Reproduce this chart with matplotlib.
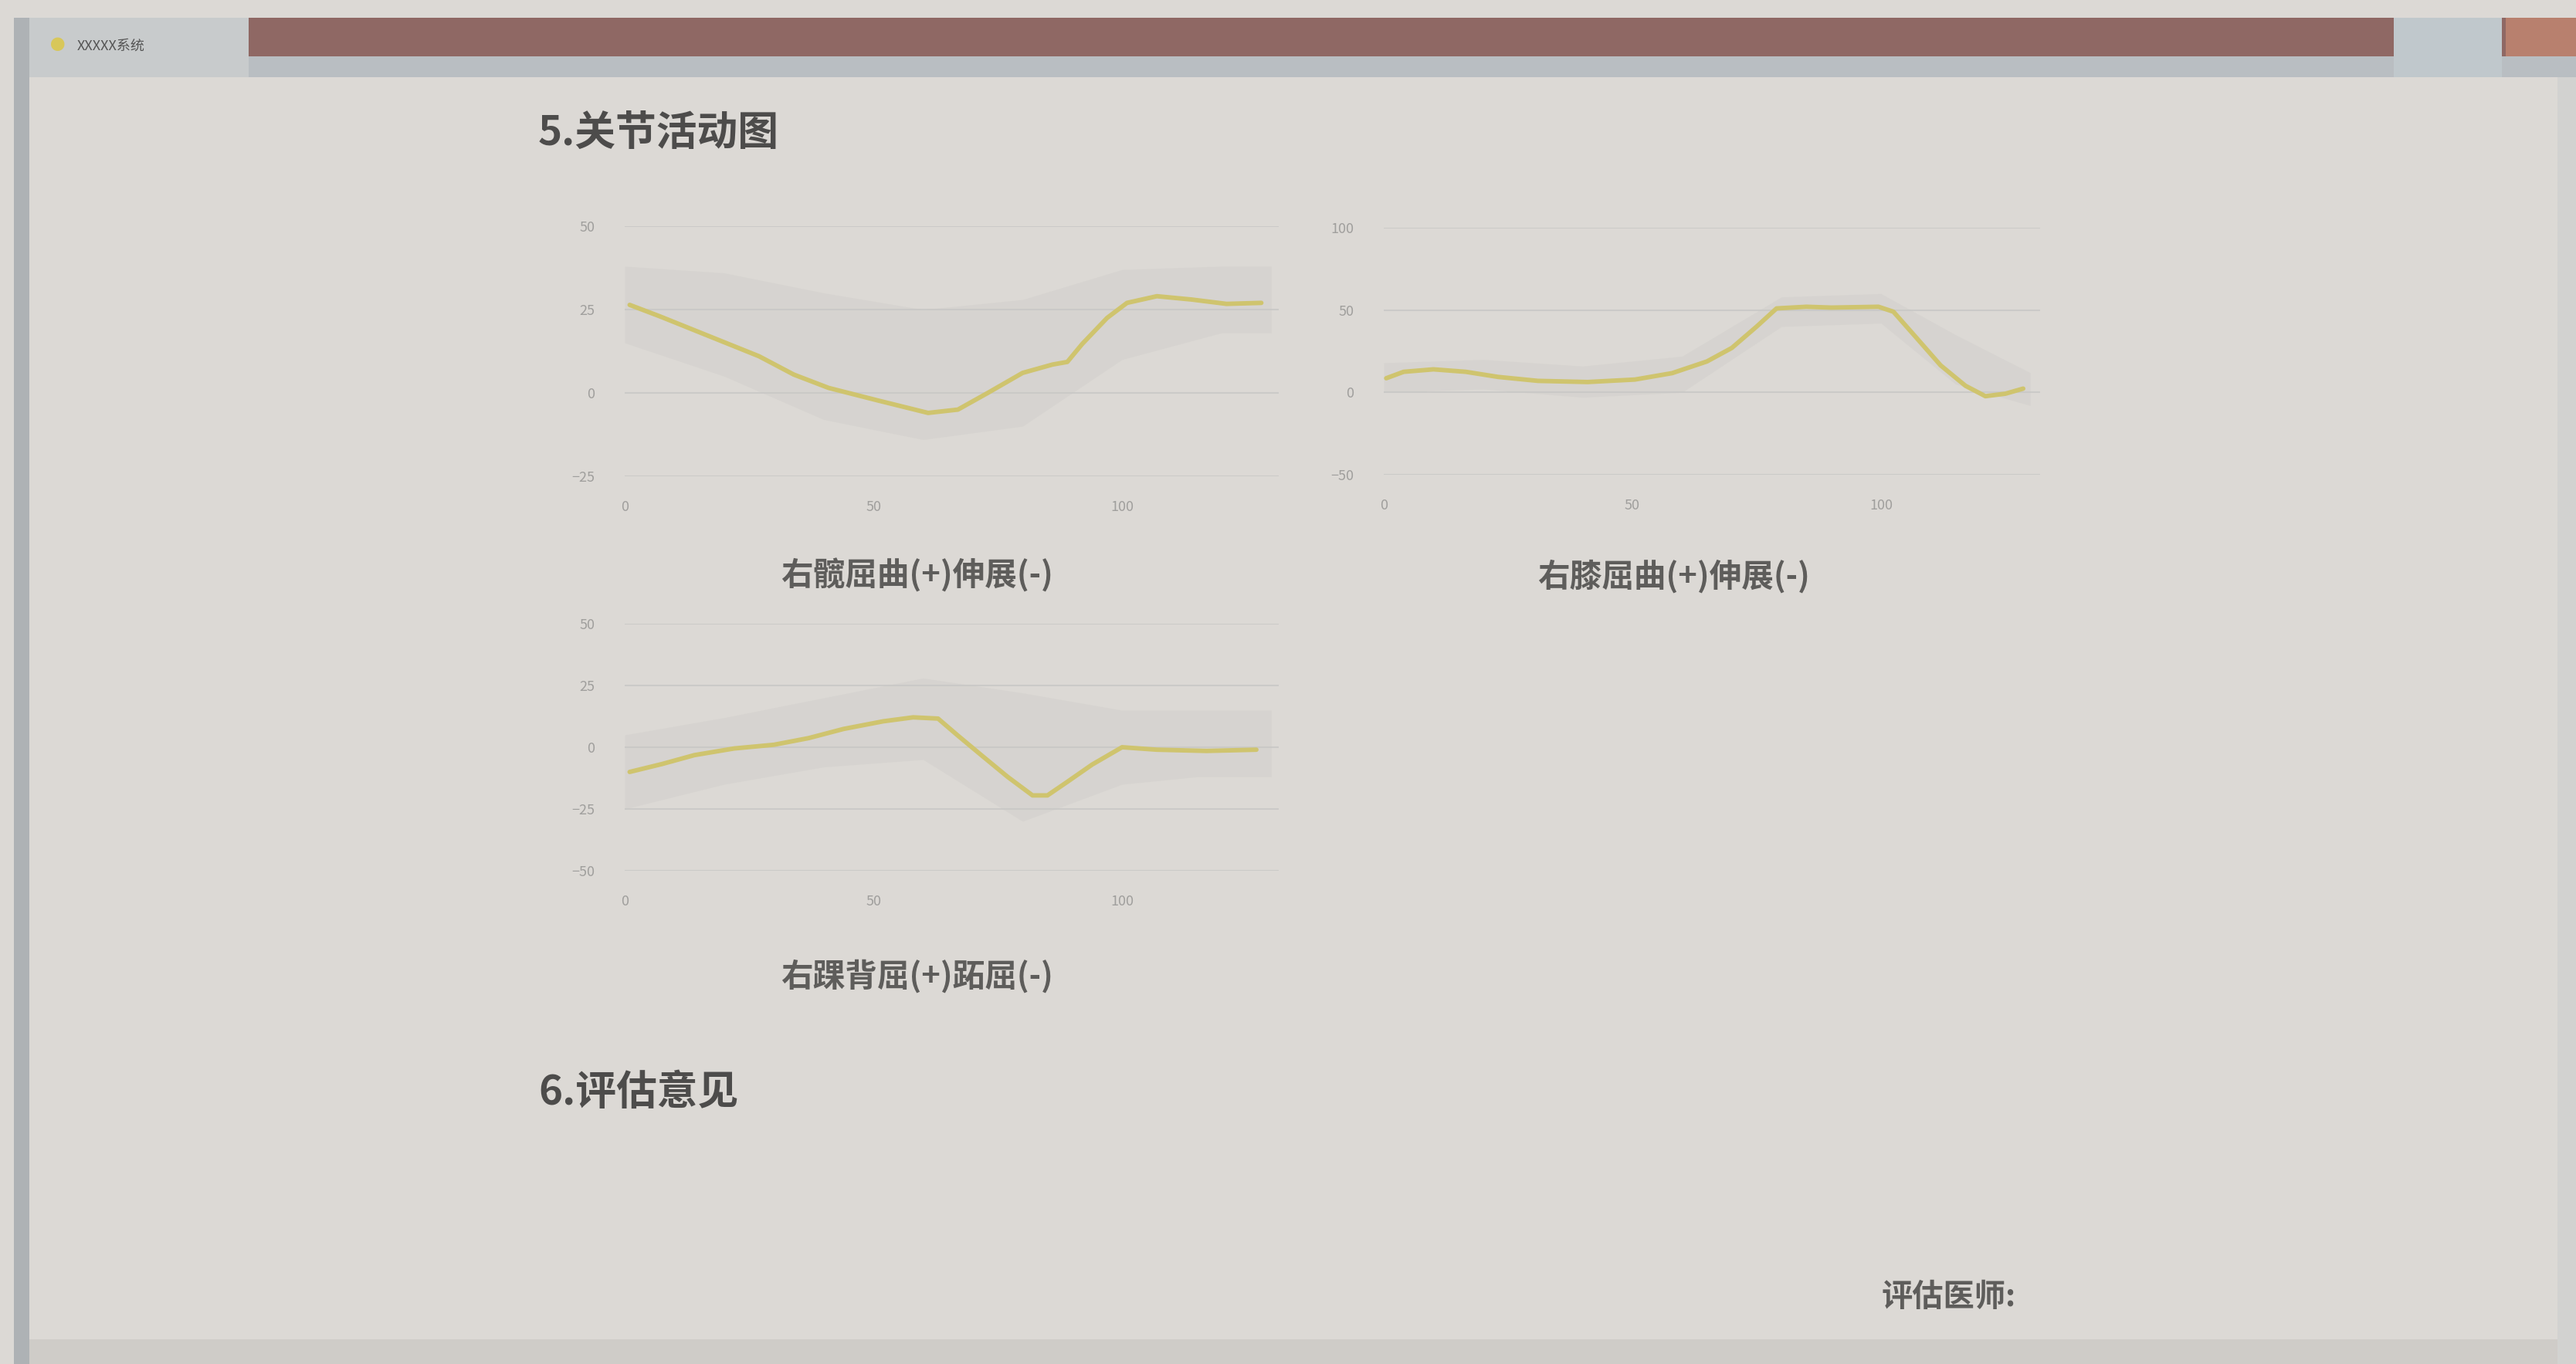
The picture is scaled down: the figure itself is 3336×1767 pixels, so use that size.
import matplotlib
matplotlib.use("Agg")
import matplotlib.pyplot as plt
from matplotlib.patches import Rectangle

plt.rcParams['font.family'] = ['Noto Sans CJK SC', 'DejaVu Sans']

# ---------------- data ----------------
hip_x = [1, 7, 17, 27, 34, 41, 51, 61, 67, 73, 80, 86, 89, 92, 97, 101, 107, 114, 121, 128]
hip_y = [26.4, 23, 17, 11, 5.5, 1.5, -2.3, -6, -5, 0, 6, 8.5, 9.3, 14.7, 22.5, 27, 29, 28, 26.7, 27]
hip_band_x = [0, 20, 40, 60, 80, 100, 120, 130]
hip_band_hi = [38, 36, 30, 25, 28, 37, 38, 38]
hip_band_lo = [15, 5, -8, -14, -10, 10, 18, 18]

knee_x = [0.5, 4, 10, 16.5, 23, 31, 41, 50.5, 58, 65, 70, 75, 79, 85, 90, 99.5, 102.5, 107, 112, 117, 121, 125, 128.6]
knee_y = [8.6, 12.5, 14, 12.5, 9.4, 7, 6.3, 7.8, 11.7, 18.8, 27, 40, 51, 52, 51.5, 52, 49, 33.6, 16.4, 4, -2.3, -0.8, 2.3]
knee_band_x = [0, 20, 40, 60, 80, 100, 115, 130]
knee_band_hi = [18, 20, 16, 22, 58, 60, 35, 12]
knee_band_lo = [0, 2, -3, 0, 40, 42, 5, -8]

ankle_x = [1, 7.5, 14, 22, 30, 37, 44, 52, 58, 63, 67, 72, 77, 82, 85, 89, 94, 100, 107, 117, 127]
ankle_y = [-10, -6.8, -3.2, -0.5, 1, 3.7, 7.4, 10.5, 12.1, 11.6, 4.7, -3.7, -12, -19.5, -19.5, -14, -7, 0, -1, -1.5, -1]
ankle_band_x = [0, 20, 40, 60, 80, 100, 115, 130]
ankle_band_hi = [5, 12, 20, 28, 22, 15, 15, 15]
ankle_band_lo = [-25, -15, -8, -5, -30, -15, -12, -12]

x_ticks = [0, 50, 100]
hip_yticks = [-25, 0, 25, 50]
knee_yticks = [-50, 0, 50, 100]
ankle_yticks = [-50, -25, 0, 25, 50]

captions = ["右髋屈曲(+)伸展(-)", "右膝屈曲(+)伸展(-)", "右踝背屈(+)跖屈(-)"]
section5 = "5.关节活动图"
section6 = "6.评估意见"
doctor = "评估医师:"
window_title = "XXXXX系统"

# ---------------- layout ----------------
W, H = 3336, 1767
BG = '#dcd9d5'
LINE = '#cfc46e'
fig = plt.figure(figsize=(W / 100, H / 100), dpi=100, facecolor=BG)


def rect(l, r, t, b):
    return [l / W, 1 - b / H, (r - l) / W, (b - t) / H]


def px_rect(x0, y0, x1, y1, color, z=0):
    fig.patches.append(Rectangle((x0 / W, 1 - y1 / H), (x1 - x0) / W, (y1 - y0) / H,
                                 transform=fig.transFigure, facecolor=color,
                                 edgecolor='none', zorder=z))


# window chrome
px_rect(32, 23, 3336, 73, '#8f6864')
px_rect(32, 73, 3336, 100, '#b9bec2')
px_rect(32, 23, 322, 100, '#c8cbcc', z=1)
px_rect(3100, 23, 3240, 100, '#c0c8cc', z=1)
px_rect(3245, 23, 3336, 73, '#b8806e', z=1)
px_rect(18, 23, 38, 1767, '#aeb2b5', z=1)
px_rect(3312, 100, 3336, 1767, '#d2d2d0', z=1)
px_rect(38, 1735, 3312, 1767, '#cfccc8', z=1)
fig.text(75 / W, 1 - 60 / H, '●', color='#d8c75a', fontsize=14, va='center', ha='center')
fig.text(100 / W, 1 - 60 / H, window_title, color='#555555', fontsize=13, va='center', ha='left')


def draw(pos, xs, ys, bx, bhi, blo, xlim, ylim, yticks):
    ax = fig.add_axes(pos)
    ax.set_facecolor('none')
    ax.fill_between(bx, blo, bhi, color='#cac8c5', alpha=0.3, lw=0, zorder=1)
    ax.plot(xs, ys, color=LINE, lw=4.2, solid_capstyle='round', zorder=3)
    ax.set_xlim(*xlim)
    ax.set_ylim(*ylim)
    ax.set_xticks(x_ticks)
    ax.set_yticks(yticks)
    ax.yaxis.grid(True, color='#cbcac8', lw=1.5)
    ax.set_axisbelow(True)
    for s in ax.spines.values():
        s.set_visible(False)
    ax.tick_params(axis='both', length=0, labelsize=13, labelcolor='#a09f9d')
    ax.tick_params(axis='x', pad=22)
    ax.tick_params(axis='y', pad=28)
    return ax


draw(rect(809, 1656, 293, 617), hip_x, hip_y, hip_band_x, hip_band_hi, hip_band_lo,
     (0, 131.5), (-25, 50), hip_yticks)
draw(rect(1792, 2642, 295, 615), knee_x, knee_y, knee_band_x, knee_band_hi, knee_band_lo,
     (0, 132), (-50, 100), knee_yticks)
draw(rect(809, 1656, 808, 1128), ankle_x, ankle_y, ankle_band_x, ankle_band_hi, ankle_band_lo,
     (0, 131.5), (-50, 50), ankle_yticks)

cap_kw = dict(fontsize=30, color='#5e5d5b', ha='center', va='center', fontweight='bold')
fig.text(1187 / W, 1 - 745 / H, captions[0], **cap_kw)
fig.text(2167 / W, 1 - 747 / H, captions[1], **cap_kw)
fig.text(1187 / W, 1 - 1265 / H, captions[2], **cap_kw)

head_kw = dict(fontsize=38, color='#4d4c4b', ha='left', va='center', fontweight='bold')
fig.text(697 / W, 1 - 172 / H, section5, **head_kw)
fig.text(697 / W, 1 - 1415 / H, section6, **head_kw)
fig.text(2437 / W, 1 - 1680 / H, doctor, fontsize=29, color='#5e5d5b', ha='left',
         va='center', fontweight='bold')

fig.savefig('out.png', dpi=100, facecolor=BG)
